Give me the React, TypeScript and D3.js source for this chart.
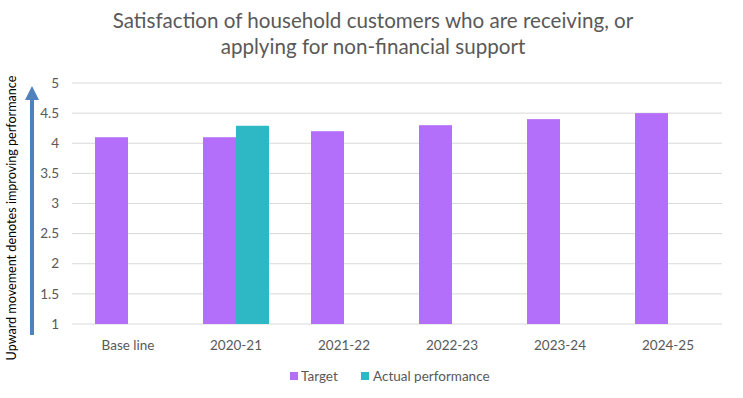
import React from "react";
import * as d3 from "d3";

const categories = ["Base line", "2020-21", "2021-22", "2022-23", "2023-24", "2024-25"];
const seriesNames = ["Target", "Actual performance"];
const targetValues = [4.1, 4.1, 4.2, 4.3, 4.4, 4.5];
const actualValues: (number | null)[] = [null, 4.29, null, null, null, null];
const yTicks = [1, 1.5, 2, 2.5, 3, 3.5, 4, 4.5, 5];
const titleLines = [
  "Satisfaction of household customers who are receiving, or",
  "applying for non-financial support",
];
const sideLabel = "Upward movement denotes improving performance";

const W = 743;
const H = 398;
const colors = ["#B36FFA", "#2EB8C6"];
const textColor = "#595959";
const font = "Lato, 'Open Sans', sans-serif";

export default function App() {
  const x0 = d3.scaleBand<string>().domain(categories).range([74, 722]).padding(0);
  const step = x0.step();
  const barW = 33;
  const x1 = d3
    .scaleBand<string>()
    .domain(seriesNames)
    .range([(step - 2 * barW) / 2, (step + 2 * barW) / 2])
    .padding(0);
  const y = d3.scaleLinear().domain([1, 5]).range([324, 83]);

  const rows = categories.map((c, i) => ({
    cat: c,
    vals: [targetValues[i], actualValues[i]],
  }));

  return (
    <svg
      width={W}
      height={H}
      style={{ position: "absolute", left: 0, top: 0, background: "#fff" }}
      fontFamily={font}
    >
      <rect x={0} y={0} width={W} height={H} fill="#fff" />
      {titleLines.map((t, i) => (
        <text
          key={i}
          x={373}
          y={28 + i * 26}
          textAnchor="middle"
          fontSize={20.6}
          fill={textColor}
        >
          {t}
        </text>
      ))}
      {yTicks.map((t) => (
        <g key={t}>
          <line x1={72} x2={722} y1={y(t)} y2={y(t)} stroke="#D9D9D9" strokeWidth={1} />
          <text
            x={59}
            y={y(t)}
            dy="0.35em"
            textAnchor="end"
            fontSize={13.5}
            fill={textColor}
          >
            {t}
          </text>
        </g>
      ))}
      {rows.map((r) => (
        <g key={r.cat} transform={`translate(${x0(r.cat)},0)`}>
          {r.vals.map((v, j) =>
            v == null ? null : (
              <rect
                key={j}
                x={x1(seriesNames[j])}
                y={y(v)}
                width={x1.bandwidth()}
                height={y(1) - y(v)}
                fill={colors[j]}
              />
            )
          )}
          <text
            x={step / 2}
            y={350}
            textAnchor="middle"
            fontSize={13.5}
            fill={textColor}
          >
            {r.cat}
          </text>
        </g>
      ))}
      {/* legend */}
      <g>
        <rect x={290} y={372} width={8} height={8} fill={colors[0]} />
        <text x={301} y={381} fontSize={13.5} fill={textColor}>
          {seriesNames[0]}
        </text>
        <rect x={361} y={372} width={8} height={8} fill={colors[1]} />
        <text x={373} y={381} fontSize={13.5} fill={textColor}>
          {seriesNames[1]}
        </text>
      </g>
      {/* side arrow */}
      <line x1={32} x2={32} y1={335} y2={99} stroke="#4F81BD" strokeWidth={4} />
      <path d="M25,100 L32,86 L39,100 Z" fill="#4F81BD" />
      <text
        transform="translate(15.5,218) rotate(-90)"
        textAnchor="middle"
        fontSize={12.6}
        fill="#000"
      >
        {sideLabel}
      </text>
    </svg>
  );
}
